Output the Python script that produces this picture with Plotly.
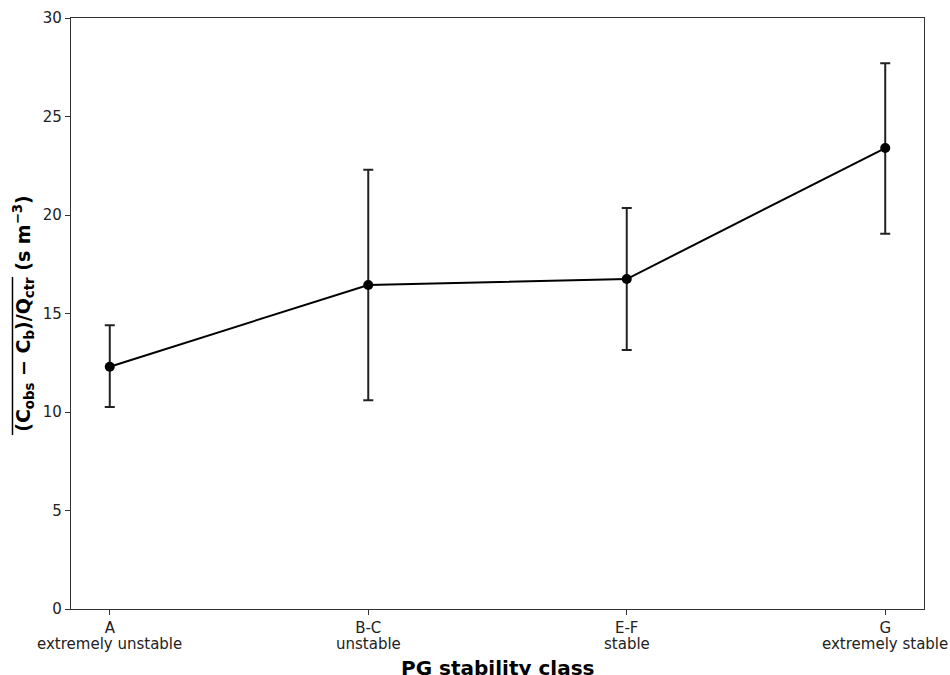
import plotly.graph_objects as go

# PG stability classes and their mean normalised concentration enhancement
classes = ["A", "B-C", "E-F", "G"]
descriptions = ["extremely unstable", "unstable", "stable", "extremely stable"]
mean_values = [12.3, 16.45, 16.75, 23.4]
upper_values = [14.4, 22.3, 20.35, 27.7]
lower_values = [10.25, 10.6, 13.15, 19.05]

x_pos = list(range(len(classes)))
err_plus = [u - m for u, m in zip(upper_values, mean_values)]
err_minus = [m - l for m, l in zip(mean_values, lower_values)]

font = "DejaVu Sans"

fig = go.Figure(
    go.Scatter(
        x=x_pos,
        y=mean_values,
        mode="lines+markers",
        line=dict(color="black", width=2),
        marker=dict(color="black", size=10),
        error_y=dict(
            type="data",
            symmetric=False,
            array=err_plus,
            arrayminus=err_minus,
            color="#222222",
            thickness=2,
            width=5,
        ),
        showlegend=False,
    )
)

fig.update_layout(
    width=950,
    height=675,
    margin=dict(l=71, r=26, t=18, b=66),
    paper_bgcolor="white",
    plot_bgcolor="white",
    font=dict(family=font, size=15, color="#222222"),
)

fig.update_xaxes(
    range=[-0.15, 3.15],
    automargin=False,
    tickmode="array",
    tickvals=x_pos,
    ticktext=classes,
    ticks="outside",
    ticklen=5,
    tickcolor="#333333",
    showgrid=False,
    zeroline=False,
    showline=True,
    linecolor="#333333",
    linewidth=1.2,
    mirror=True,
    tickfont=dict(size=15),
)

fig.update_yaxes(
    range=[0, 30],
    automargin=False,
    tickvals=[0, 5, 10, 15, 20, 25, 30],
    ticks="outside",
    ticklen=5,
    tickcolor="#333333",
    showgrid=False,
    zeroline=False,
    showline=True,
    linecolor="#333333",
    linewidth=1.2,
    mirror=True,
    tickfont=dict(size=15),
    title=dict(
        text="<b>(C<sub>obs</sub> − C<sub>b</sub>)/Q<sub>ctr</sub> (s m<sup>−3</sup>)</b>",
        font=dict(size=19, color="black"),
        standoff=7,
    ),
)

# second line of each tick label: stability description
for xv, desc in zip(x_pos, descriptions):
    fig.add_annotation(
        text=desc,
        x=xv,
        xref="x",
        y=-0.0592,
        yref="paper",
        xanchor="center",
        yanchor="middle",
        showarrow=False,
        font=dict(size=15, color="#222222"),
    )

# x-axis title placed just under the two-line tick labels
fig.add_annotation(
    text="<b>PG stability class</b>",
    xref="paper",
    yref="paper",
    x=0.5,
    y=-0.1,
    xanchor="center",
    yanchor="middle",
    showarrow=False,
    font=dict(size=20, color="black"),
)

# overline across the averaged quantity in the y-axis title
fig.add_shape(
    type="line",
    xref="paper",
    yref="paper",
    x0=-0.0686,
    x1=-0.0686,
    y0=0.2944,
    y1=0.5618,
    line=dict(color="black", width=1.5),
)

fig.write_html("out.html")
